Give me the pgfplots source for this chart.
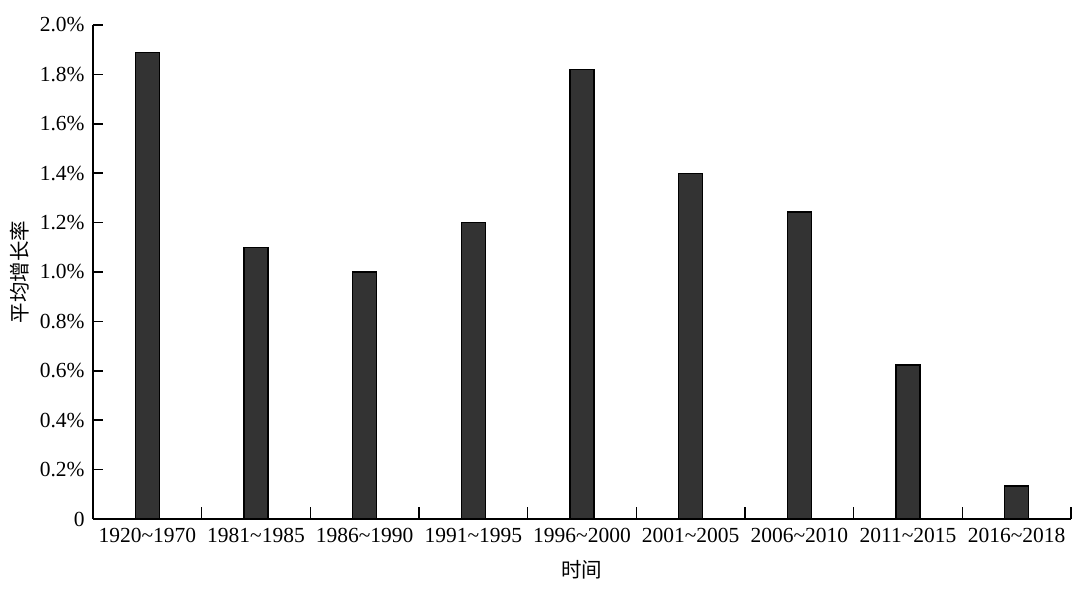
\documentclass[border=0pt]{standalone}
\usepackage{fontspec}
\setmainfont{Liberation Serif}
\newfontfamily\cjk{Noto Sans CJK SC}
\usepackage{pgfplots}
\pgfplotsset{compat=1.18}
\definecolor{barfill}{HTML}{333333}
\begin{document}
\fontsize{21.5bp}{25bp}\selectfont
\begin{tikzpicture}
\path[use as bounding box] (-93bp,-70bp) rectangle (987bp,519bp);
\begin{axis}[
  scale only axis,
  width=978bp, height=494bp,
  xmin=-0.5, xmax=8.5,
  ymin=0, ymax=2,
  axis x line=bottom, axis y line=left,
  axis line style={-, line width=1.6bp},
  tick style={line width=1.6bp, black},
  minor tick style={line width=1.6bp, black},
  tick align=inside,
  major tick length=10bp,
  minor tick length=12bp,
  xtick={0,1,2,3,4,5,6,7,8},
  xticklabels={1920\textasciitilde1970,1981\textasciitilde1985,1986\textasciitilde1990,1991\textasciitilde1995,1996\textasciitilde2000,2001\textasciitilde2005,2006\textasciitilde2010,2011\textasciitilde2015,2016\textasciitilde2018},
  major x tick style={draw=none},
  minor xtick={0.5,1.5,2.5,3.5,4.5,5.5,6.5,7.5,8.5},
  ytick={0,0.2,0.4,0.6,0.8,1.0,1.2,1.4,1.6,1.8,2.0},
  yticklabels={0,0.2\%,0.4\%,0.6\%,0.8\%,1.0\%,1.2\%,1.4\%,1.6\%,1.8\%,2.0\%},
  tick label style={font=\fontsize{21.5bp}{25bp}\selectfont},
  xticklabel style={yshift=-2bp},
  yticklabel style={xshift=-1bp},
  xlabel={\cjk 时间},
  ylabel={\cjk 平均增长率},
  label style={font=\fontsize{20.5bp}{24bp}\selectfont},
  x label style={at={(axis description cs:0.5,-0.103)}, anchor=center},
  y label style={at={(axis description cs:-0.0746,0.5)}, anchor=center},
  clip=false,
]
\addplot[ybar, bar width=24bp, fill=barfill, draw=black, line width=1.3bp] coordinates {
  (0,1.89) (1,1.10) (2,1.00) (3,1.20) (4,1.82) (5,1.40) (6,1.243) (7,0.623) (8,0.134)
};
\end{axis}
\end{tikzpicture}
\end{document}
